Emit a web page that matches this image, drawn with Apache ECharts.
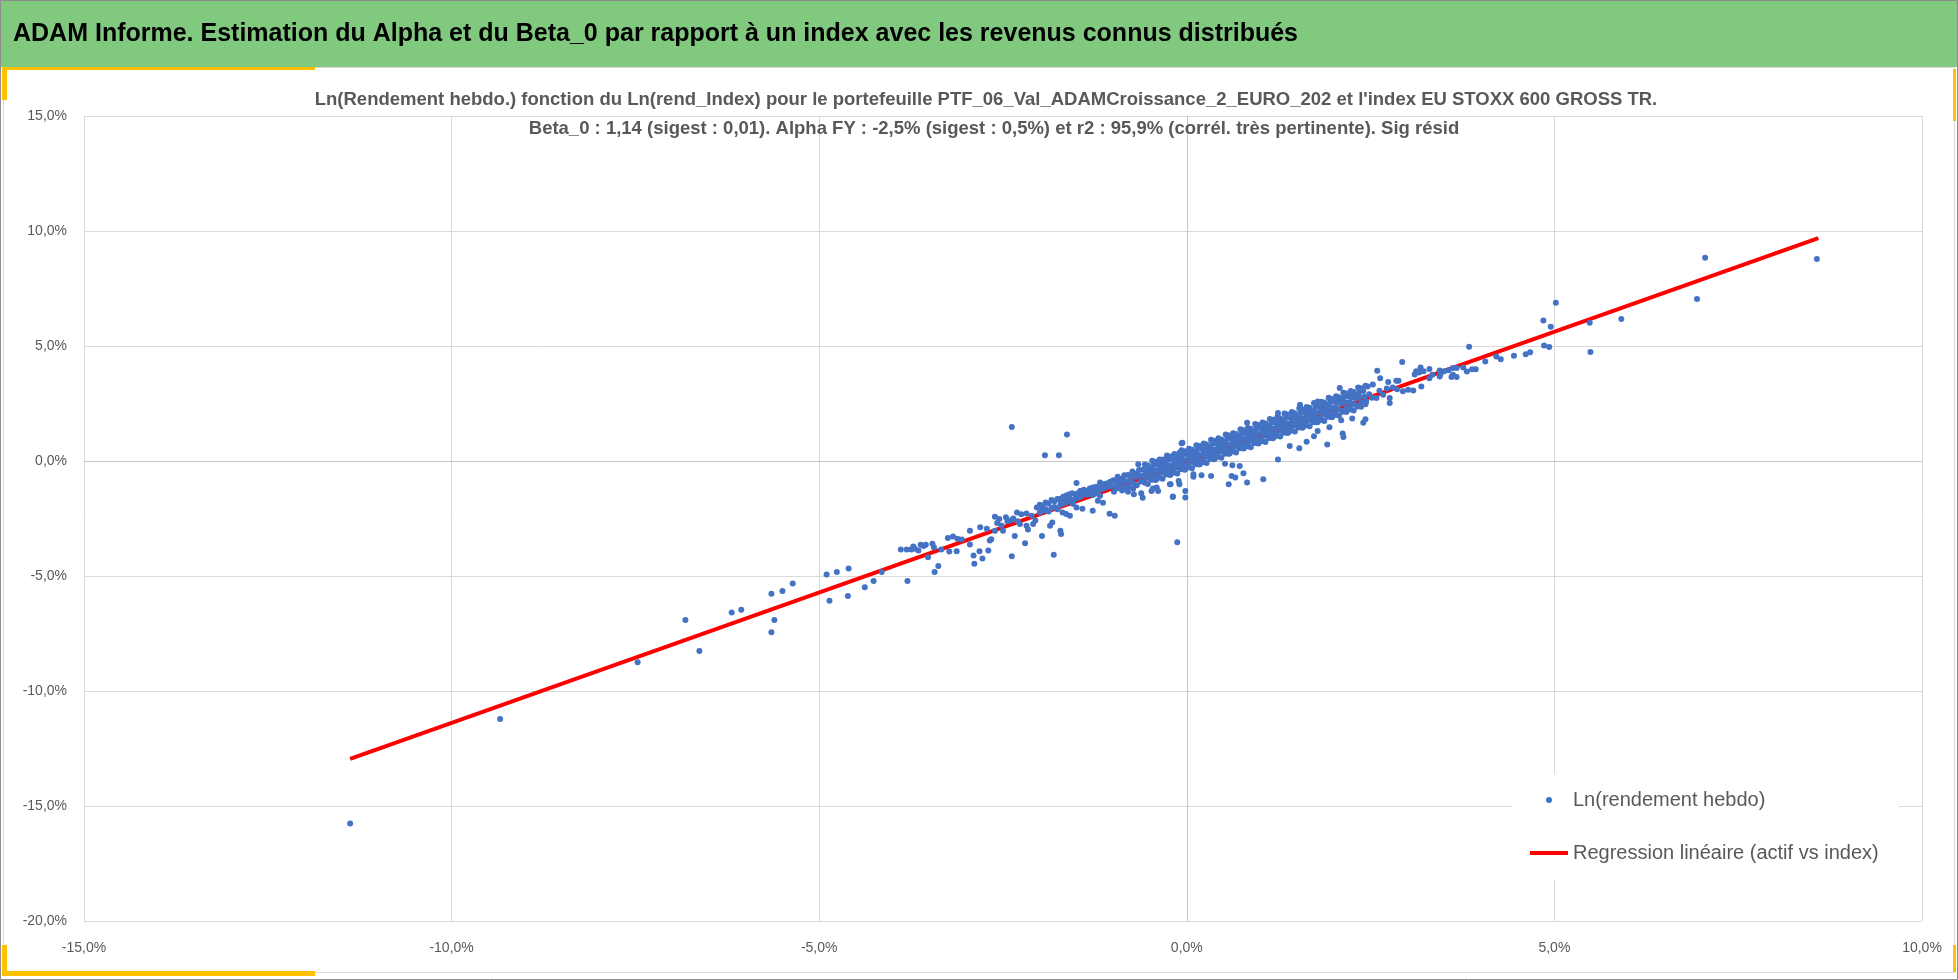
<!DOCTYPE html>
<html>
<head>
<meta charset="utf-8">
<script src="https://cdn.jsdelivr.net/npm/echarts@6/dist/echarts.min.js"></script>
<style>html,body{margin:0;padding:0;background:#fff;}#c{width:1958px;height:980px;}</style>
</head>
<body>
<div id="c"></div>
<script>
// ---- Text ----
const mainTitle = "ADAM Informe. Estimation du Alpha et du Beta_0 par rapport à un index avec les revenus connus distribués";
const subTitle1 = "Ln(Rendement hebdo.) fonction du Ln(rend_Index) pour le portefeuille PTF_06_Val_ADAMCroissance_2_EURO_202 et l'index EU STOXX 600 GROSS TR.";
const subTitle2 = "Beta_0 : 1,14 (sigest : 0,01). Alpha FY : -2,5% (sigest : 0,5%) et r2 : 95,9% (corrél. très pertinente). Sig résid";
const seriesNames = ["Ln(rendement hebdo)", "Regression linéaire (actif vs index)"];

// ---- Axis ticks (percent) ----
const xTicks = {min: -15, max: 10, step: 5};
const yTicks = {min: -20, max: 15, step: 5};

// ---- Data: [Ln(rend_Index) %, Ln(rendement hebdo) %] ----
const tailLow = [
[-11.38,-15.76],[-9.34,-11.22],[-7.47,-8.75],[-6.82,-6.91],[-6.63,-8.26],[-6.19,-6.59],[-6.06,-6.47],[-5.65,-5.77],[-5.61,-6.91],[-5.65,-7.45],[-5.50,-5.65],[-5.36,-5.33],[-4.90,-4.94],[-4.76,-4.83],[-4.60,-4.67],[-4.86,-6.08],[-4.61,-5.87],[-4.38,-5.49],[-4.26,-5.22],[-4.15,-4.83],[-3.80,-5.22],
[-3.89,-3.85],[-3.81,-3.85],[-3.75,-3.85],[-3.70,-3.82],[-3.72,-3.72],[-3.62,-3.64],[-3.58,-3.70],[-3.55,-3.64],[-3.52,-4.18],[-3.65,-3.89],[-3.46,-3.60],[-3.43,-4.83],[-3.38,-4.57],[-3.34,-3.85],[-3.44,-3.75],
[-3.25,-3.35],[-3.18,-3.28],[-3.12,-3.38],[-3.06,-3.41],[-3.23,-3.94],[-3.13,-3.92],[-2.95,-3.03],[-2.95,-3.63],[-2.90,-4.11],[-2.89,-4.47],[-2.82,-3.92],[-2.78,-4.24],[-2.81,-2.88],[-2.72,-2.95],[-2.70,-3.89],[-2.68,-3.46],[-2.66,-3.40],
[-2.61,-2.42],[-2.55,-2.52],[-2.46,-2.45],[-2.40,-2.59],[-2.61,-3.03],[-2.50,-3.03],[-2.38,-4.14],[-2.34,-3.26],[-2.58,-2.70],[-2.52,-2.80],[-2.44,-2.62],[-2.36,-2.50],[-2.30,-2.62]
];
const clusterNeg = [
[-2.31,-2.24],[-2.25,-2.31],[-2.18,-2.28],[-2.11,-2.38],[-2.27,-2.74],[-2.18,-2.81],[-2.20,-3.58],[-2.16,-2.98],[-2.09,-2.74],[-2.06,-2.59],[-2.04,-2.02],[-1.97,-2.09],[-1.91,-2.16],[-1.97,-3.26],[-1.86,-2.81],[-1.83,-2.67],[-1.81,-4.08],[-1.72,-3.03],[-1.71,-3.17],[-1.72,-1.64],[-1.66,-1.75],[-1.60,-1.70],[-1.55,-1.86],[-1.69,-2.24],[-1.64,-2.30],[-1.59,-2.38],[-1.50,-0.96],[-1.45,-1.30],[-1.40,-1.42],[-1.33,-1.35],[-1.28,-1.48],[-1.23,-1.40],[-1.18,-1.51],[-1.50,-2.02],[-1.42,-2.08],[-1.28,-2.16],[-1.18,-0.94],[-1.21,-1.73],[-1.14,-1.82],[-1.05,-2.29],[-0.98,-2.38],
[-2.00,-1.90],[-2.00,-2.25],[-1.96,-1.95],[-1.96,-2.15],[-1.92,-1.80],[-1.92,-2.10],[-1.88,-1.85],[-1.88,-2.20],[-1.84,-1.70],[-1.84,-2.05],[-1.80,-1.75],[-1.80,-2.00],[-1.76,-1.65],[-1.76,-2.10],[-1.72,-1.70],[-1.72,-1.90],[-1.68,-1.55],[-1.68,-1.85],[-1.64,-1.50],[-1.64,-1.80],[-1.60,-1.60],[-1.60,-1.45],[-1.56,-1.70],[-1.56,-1.40],[-1.52,-1.45],[-1.52,-1.65],[-1.48,-1.40],[-1.48,-1.60],[-1.44,-1.30],[-1.44,-1.55],[-1.40,-1.40],[-1.40,-1.25],[-1.36,-1.47],[-1.36,-1.30],[-1.32,-1.20],[-1.32,-1.43],[-1.28,-1.15],[-1.28,-1.37],[-1.24,-1.30],[-1.24,-1.13],[-1.20,-1.10],[-1.20,-1.27],[-1.16,-1.23],[-1.16,-1.05],[-1.12,-1.00],[-1.12,-1.18],[-1.08,-1.13],[-1.08,-0.97],[-1.04,-0.90],[-1.04,-1.10]
];
const clusterCore = [
[-1.00,-0.84],[-0.98,-1.09],[-0.99,-1.34],
[-0.95,-0.88],[-0.93,-1.18],[-0.94,-0.68],
[-0.90,-0.93],[-0.88,-1.28],[-0.89,-0.78],
[-0.85,-0.62],[-0.83,-1.12],[-0.84,-0.87],
[-0.80,-0.61],[-0.78,-0.86],[-0.79,-1.11],
[-0.75,-0.66],[-0.73,-0.96],[-0.74,-0.46],
[-0.70,-0.70],[-0.68,-1.05],[-0.69,-0.55],
[-0.65,-0.39],[-0.63,-0.89],[-0.64,-0.64],
[-0.60,-0.38],[-0.58,-0.63],[-0.59,-0.88],
[-0.55,-0.43],[-0.53,-0.73],[-0.54,-0.23],
[-0.50,-0.47],[-0.48,-0.82],[-0.49,-0.32],[-0.47,-0.57],
[-0.45,-0.16],[-0.43,-0.66],[-0.44,-0.41],[-0.42,-0.81],
[-0.40,-0.16],[-0.38,-0.41],[-0.39,-0.66],[-0.37,-0.31],
[-0.35,-0.20],[-0.33,-0.50],[-0.34,0.00],[-0.32,-0.45],
[-0.30,-0.24],[-0.28,-0.59],[-0.29,-0.09],[-0.27,-0.34],
[-0.25,0.07],[-0.23,-0.44],[-0.24,-0.19],[-0.22,-0.59],
[-0.20,0.07],[-0.18,-0.18],[-0.19,-0.43],[-0.17,-0.08],
[-0.15,0.03],[-0.13,-0.27],[-0.14,0.23],[-0.12,-0.22],
[-0.10,-0.01],[-0.08,-0.36],[-0.09,0.14],[-0.07,-0.11],
[-0.05,0.29],[-0.03,-0.21],[-0.04,0.04],[-0.02,-0.36],
[0.00,0.30],[0.02,0.05],[0.01,-0.20],[0.03,0.15],
[0.05,0.26],[0.07,-0.04],[0.06,0.46],[0.08,0.01],
[0.10,0.21],[0.12,-0.14],[0.11,0.36],[0.13,0.11],
[0.15,0.52],[0.17,0.02],[0.16,0.27],[0.18,-0.13],
[0.20,0.53],[0.22,0.28],[0.21,0.03],[0.23,0.38],
[0.25,0.49],[0.27,0.19],[0.26,0.69],[0.28,0.24],
[0.30,0.44],[0.32,0.09],[0.31,0.59],[0.33,0.34],
[0.35,0.75],[0.37,0.25],[0.36,0.50],[0.38,0.10],
[0.40,0.76],[0.42,0.51],[0.41,0.26],[0.43,0.61],
[0.45,0.71],[0.47,0.41],[0.46,0.91],[0.48,0.46],
[0.50,0.67],[0.52,0.32],[0.51,0.82],[0.53,0.57],
[0.55,0.98],[0.57,0.48],[0.56,0.73],[0.58,0.33],
[0.60,0.98],[0.62,0.73],[0.61,0.48],[0.63,0.83],
[0.65,0.94],[0.67,0.64],[0.66,1.14],[0.68,0.69],
[0.70,0.90],[0.72,0.55],[0.71,1.05],[0.73,0.80],
[0.75,1.21],[0.77,0.71],[0.76,0.96],[0.78,0.56],
[0.80,1.21],[0.82,0.96],[0.81,0.71],[0.83,1.06],
[0.85,1.17],[0.87,0.87],[0.86,1.37],[0.88,0.92],
[0.90,1.13],[0.92,0.78],[0.91,1.28],[0.93,1.03],
[0.95,1.43],[0.97,0.93],[0.96,1.18],[0.98,0.78],
[1.00,1.44],[1.02,1.19],[1.01,0.94],[1.03,1.29],
[1.05,1.40],[1.07,1.10],[1.06,1.60],[1.08,1.15],
[1.10,1.35],[1.12,1.00],[1.11,1.50],[1.13,1.25],
[1.15,1.66],[1.17,1.16],[1.16,1.41],[1.18,1.01],
[1.20,1.67],[1.22,1.42],[1.21,1.17],[1.23,1.52],
[1.25,1.63],[1.27,1.33],[1.26,1.83],[1.28,1.38],
[1.30,1.58],[1.32,1.23],[1.31,1.73],[1.33,1.48],
[1.35,1.89],[1.37,1.39],[1.36,1.64],[1.38,1.24],
[1.40,1.90],[1.42,1.65],[1.41,1.40],[1.43,1.75],
[1.45,1.85],[1.47,1.55],[1.46,2.05],[1.48,1.60],
[1.50,1.81],[1.52,1.46],[1.51,1.96],[1.53,1.71],
[1.55,2.12],[1.57,1.62],[1.56,1.87],[1.58,1.47],
[1.60,2.12],[1.62,1.87],[1.61,1.62],[1.63,1.97],
[1.65,2.08],[1.67,1.78],[1.66,2.28],[1.68,1.83],
[1.70,2.04],[1.72,1.69],[1.71,2.19],[1.73,1.94],
[1.75,2.35],[1.77,1.85],[1.76,2.10],[1.78,1.70],
[1.80,2.35],[1.82,2.10],[1.81,1.85],[1.83,2.20],
[1.85,2.31],[1.87,2.01],[1.86,2.51],[1.88,2.06],
[1.90,2.27],[1.92,1.92],[1.91,2.42],[1.93,2.17],
[1.95,2.57],[1.97,2.07],[1.96,2.32],[1.98,1.92],
[2.00,2.58],[2.02,2.33],[2.01,2.08],
[2.05,2.54],[2.07,2.24],[2.06,2.74],
[2.10,2.49],[2.12,2.14],[2.11,2.64],
[2.15,2.80],[2.17,2.30],[2.16,2.55],
[2.20,2.81],[2.22,2.56],[2.21,2.31],
[2.25,2.77],[2.27,2.47],[2.26,2.97],
[2.30,2.72],[2.32,2.37],[2.31,2.87],
[2.35,3.03],[2.37,2.53],[2.36,2.78],
[2.40,3.04],[2.42,2.79],[2.41,2.54]
];
const clusterEdge = [
[-0.57,-0.15],[-0.57,-0.95],[-0.53,-0.20],[-0.53,-1.00],[-0.47,0.01],[-0.47,-0.79],[-0.43,-0.03],[-0.43,-0.83],
[-0.37,0.07],[-0.37,-0.73],[-0.33,0.03],[-0.33,-0.77],[-0.27,0.24],[-0.27,-0.56],[-0.23,0.20],[-0.23,-0.61],
[-0.17,0.30],[-0.17,-0.50],[-0.13,0.26],[-0.13,-0.54],[-0.07,0.47],[-0.07,-0.33],[-0.03,0.42],[-0.03,-0.38],
[0.03,0.53],[0.03,-0.27],[0.07,0.49],[0.07,-0.31],[0.13,0.69],[0.13,-0.11],[0.17,0.65],[0.17,-0.15],
[0.23,0.76],[0.23,-0.04],[0.27,0.72],[0.27,-0.09],[0.33,0.92],[0.33,0.12],[0.37,0.88],[0.37,0.08],
[0.43,0.99],[0.43,0.19],[0.47,0.94],[0.47,0.14],[0.53,1.15],[0.53,0.35],[0.57,1.11],[0.57,0.31],
[0.63,1.21],[0.63,0.41],[0.67,1.17],[0.67,0.37],[0.73,1.38],[0.73,0.58],[0.77,1.34],[0.77,0.54],
[0.83,1.44],[0.83,0.64],[0.87,1.40],[0.87,0.60],[0.93,1.61],[0.93,0.81],[0.97,1.56],[0.97,0.76],
[1.03,1.67],[1.03,0.87],[1.07,1.63],[1.07,0.83],[1.13,1.83],[1.13,1.03],[1.17,1.79],[1.17,0.99],
[1.23,1.90],[1.23,1.10],[1.27,1.86],[1.27,1.06],[1.33,2.06],[1.33,1.26],[1.37,2.02],[1.37,1.22],
[1.43,2.13],[1.43,1.33],[1.47,2.08],[1.47,1.28],[1.53,2.29],[1.53,1.49],[1.57,2.25],[1.57,1.45],
[1.63,2.35],[1.63,1.55],[1.67,2.31],[1.67,1.51],[1.73,2.52],[1.73,1.72],[1.77,2.48],[1.77,1.68],
[1.83,2.58],[1.83,1.78],[1.87,2.54],[1.87,1.74],[1.93,2.75],[1.93,1.95],[1.97,2.70],[1.97,1.90],
[2.03,2.81],[2.03,2.01],[2.07,2.77],[2.07,1.97],[2.13,2.97],[2.13,2.17],[2.17,2.93],[2.17,2.13],
[2.23,3.04],[2.23,2.24],[2.27,3.00],[2.27,2.20],[2.33,3.20],[2.33,2.40],[2.37,3.16],[2.37,2.36],
[2.43,3.27],[2.43,2.47]
];
const clusterPos = [
[2.48,2.90],[2.52,2.75],[2.58,2.74],[2.62,3.05],[2.67,2.88],[2.72,3.15],[2.76,2.74],[2.80,3.20],[2.86,3.12],[2.94,3.03],[3.01,3.10],[3.08,3.06],[3.19,3.24],[3.30,3.60],[3.44,3.89],[3.62,3.75],[2.76,2.52],[2.44,2.59]
];
const scatteredMid = [
[-0.07,0.77],[-0.10,0.36],[-0.06,0.79],[-0.19,-1.54],[-0.02,-1.30],[-0.02,-1.59],[-0.23,-1.01],[-0.10,-1.01],[-0.41,-1.15],[-0.11,-0.87],[-0.22,-1.01],[-0.48,-1.30],[-0.91,-1.12],[-0.82,-1.16],[-0.73,-1.21],[-0.80,-1.34],[-0.72,-1.45],[-0.62,-1.40],[-0.60,-1.60],[-0.46,-1.20],[-0.39,-1.30],[-0.19,-1.56],[-0.13,-3.53],[-2.38,1.48],[-1.63,1.15],[-1.93,0.25],[-1.74,0.25],[-0.66,-0.14],[-0.43,-0.14],[-0.32,0.07],[0.09,-0.69],
[0.09,-0.58],[0.20,-0.62],[0.33,-0.65],[0.52,-0.12],[0.62,-0.18],[0.72,-0.22],[0.57,-1.01],[0.61,-0.65],[0.66,-0.72],[0.77,-0.53],[0.82,-0.94],[1.04,-0.79],[1.24,0.07],[1.40,0.65],[1.53,0.55],[1.63,0.84],[1.73,1.08],[1.78,1.30],[1.91,0.72],[1.94,1.47],[2.10,1.77],[2.12,1.20],[2.13,1.04],[2.25,1.85],[2.40,1.66],[2.43,1.82],
[0.82,1.66],[1.24,2.09],[1.54,2.45],[1.78,2.59],[2.08,3.17],[2.46,3.24],[2.53,3.33],[2.59,3.92],[2.63,3.60],[2.74,3.43],[2.93,4.30],[2.85,3.49],[2.88,3.49]
];
const tailHigh = [
[3.10,3.76],[3.18,4.07],[3.12,3.90],[3.16,3.85],[3.22,3.90],[3.30,4.00],[3.34,3.75],[3.45,3.78],[3.50,3.90],[3.56,3.95],[3.44,3.67],[3.44,3.94],[3.62,4.04],[3.67,4.04],[3.60,3.65],[3.67,3.65],[3.76,4.07],[3.81,3.89],[3.84,4.97],[3.88,3.99],[3.93,3.99],[4.06,4.33],[4.21,4.54],[4.27,4.42],[4.45,4.58],[4.61,4.64],[4.67,4.73],[4.85,6.11],[4.95,5.84],[4.86,5.02],[4.93,4.96],[5.02,6.88],[5.48,6.01],[5.49,4.74],[5.91,6.17],[6.94,7.04],[7.05,8.84],[8.57,8.78]
];
// Regression line end points
const regressionX = [-11.38, 8.59];
const regressionY = [-12.95, 9.69];

// ---- Build ----
const weeklyPoints = [].concat(tailLow, clusterNeg, clusterCore, clusterEdge, clusterPos, scatteredMid, tailHigh);
const regressionLine = regressionX.map((x, i) => [x, regressionY[i]]);
const FONT = '"Liberation Sans", Arial, sans-serif';
const pct = v => v.toFixed(1).replace('.', ',') + '%';

const chart = echarts.init(document.getElementById('c'));
chart.setOption({
  animation: false,
  backgroundColor: '#ffffff',
  textStyle: {fontFamily: FONT},
  grid: {left: 84, right: 36, top: 116, bottom: 59, containLabel: false},
  xAxis: {
    type: 'value', min: xTicks.min, max: xTicks.max, interval: xTicks.step,
    axisLine: {show: false}, axisTick: {show: false},
    splitLine: {show: true, lineStyle: {color: '#D9D9D9', width: 1}},
    axisLabel: {formatter: pct, color: '#595959', fontSize: 14, margin: 20, fontFamily: FONT}
  },
  yAxis: {
    type: 'value', min: yTicks.min, max: yTicks.max, interval: yTicks.step,
    axisLine: {show: false}, axisTick: {show: false},
    splitLine: {show: true, lineStyle: {color: '#D9D9D9', width: 1}},
    axisLabel: {formatter: pct, color: '#595959', fontSize: 14, margin: 17, fontFamily: FONT}
  },
  legend: {
    orient: 'vertical', left: 1512, top: 774,
    padding: [16, 20, 17, 18],
    backgroundColor: '#ffffff',
    itemWidth: 38, itemHeight: 6, itemGap: 33,
    selectedMode: false,
    symbolKeepAspect: true,
    data: [
      {name: seriesNames[0], icon: 'circle'},
      {name: seriesNames[1], icon: 'path://M0,0L38,0L38,4L0,4Z'}
    ],
    textStyle: {fontSize: 20, color: '#595959', lineHeight: 20, fontFamily: FONT}
  },
  series: [
    {
      name: seriesNames[0], type: 'scatter', data: weeklyPoints,
      symbol: 'circle', symbolSize: 6, z: 3,
      itemStyle: {color: '#4472C4', opacity: 1},
      markLine: {
        silent: true, symbol: 'none', z: 1, animation: false,
        label: {show: false},
        lineStyle: {color: '#C6C6C6', width: 1, type: 'solid'},
        data: [{xAxis: 0}, {yAxis: 0}]
      }
    },
    {
      name: seriesNames[1], type: 'line', data: regressionLine,
      symbol: 'none', showSymbol: false, z: 2,
      lineStyle: {color: '#FF0000', width: 4},
      itemStyle: {color: '#FF0000'}
    }
  ],
  graphic: [
    {type: 'rect', shape: {x: 0, y: 0, width: 1958, height: 67}, style: {fill: '#80C97F'}, z: 0},
    {type: 'rect', shape: {x: 3.5, y: 67.5, width: 1951, height: 905}, style: {fill: 'none', stroke: '#D9D9D9', lineWidth: 1}, z: 0},
    {type: 'rect', shape: {x: 0.5, y: 0.5, width: 1957, height: 979}, style: {fill: 'none', stroke: '#8C8C8C', lineWidth: 1}, z: 10},
    {type: 'rect', shape: {x: 2, y: 67, width: 313, height: 3}, style: {fill: '#FFC000'}, z: 5},
    {type: 'rect', shape: {x: 2, y: 67, width: 5, height: 33}, style: {fill: '#FFC000'}, z: 5},
    {type: 'rect', shape: {x: 2, y: 971, width: 313, height: 5}, style: {fill: '#FFC000'}, z: 5},
    {type: 'rect', shape: {x: 2, y: 945, width: 5, height: 31}, style: {fill: '#FFC000'}, z: 5},
    {type: 'rect', shape: {x: 1953, y: 69, width: 3, height: 52}, style: {fill: '#FFC000'}, z: 5},
    {type: 'rect', shape: {x: 1953, y: 945, width: 3, height: 27}, style: {fill: '#FFC000'}, z: 5},
    {type: 'text', x: 13, y: 34, z: 6, style: {text: mainTitle, fill: '#000000', font: 'bold 25px ' + FONT, align: 'left', verticalAlign: 'middle', textAlign: 'left', textVerticalAlign: 'middle'}},
    {type: 'text', x: 986, y: 100, z: 6, style: {text: subTitle1, fill: '#595959', font: 'bold 18.5px ' + FONT, align: 'center', verticalAlign: 'middle', textAlign: 'center', textVerticalAlign: 'middle'}},
    {type: 'text', x: 994, y: 129, z: 6, style: {text: subTitle2, fill: '#595959', font: 'bold 18.5px ' + FONT, align: 'center', verticalAlign: 'middle', textAlign: 'center', textVerticalAlign: 'middle'}}
  ]
});
</script>
</body>
</html>
